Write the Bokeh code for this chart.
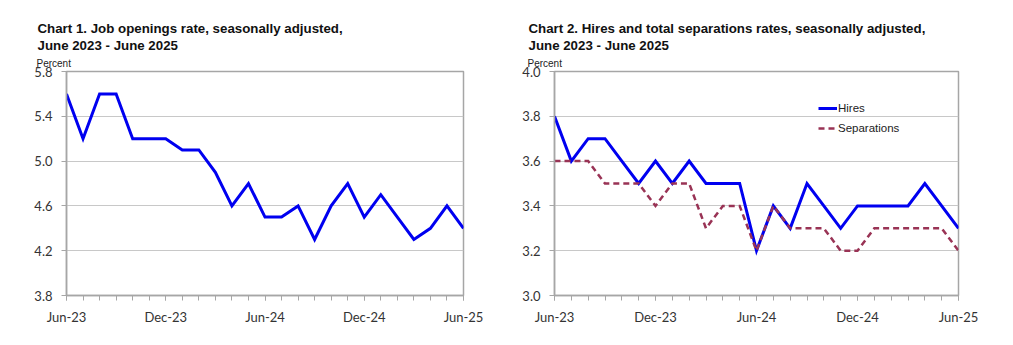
from bokeh.plotting import figure
from bokeh.layouts import row
from bokeh.models import Range1d, FixedTicker, NumeralTickFormatter, Title, Legend, LegendItem
from bokeh.embed import file_html
from bokeh.resources import INLINE

months = ["Jun-23", "Jul-23", "Aug-23", "Sep-23", "Oct-23", "Nov-23", "Dec-23",
          "Jan-24", "Feb-24", "Mar-24", "Apr-24", "May-24", "Jun-24", "Jul-24",
          "Aug-24", "Sep-24", "Oct-24", "Nov-24", "Dec-24", "Jan-25", "Feb-25",
          "Mar-25", "Apr-25", "May-25", "Jun-25"]
openings = [5.6, 5.2, 5.6, 5.6, 5.2, 5.2, 5.2, 5.1, 5.1, 4.9, 4.6, 4.8, 4.5,
            4.5, 4.6, 4.3, 4.6, 4.8, 4.5, 4.7, 4.5, 4.3, 4.4, 4.6, 4.4]
hires = [3.8, 3.6, 3.7, 3.7, 3.6, 3.5, 3.6, 3.5, 3.6, 3.5, 3.5, 3.5, 3.2,
         3.4, 3.3, 3.5, 3.4, 3.3, 3.4, 3.4, 3.4, 3.4, 3.5, 3.4, 3.3]
separations = [3.6, 3.6, 3.6, 3.5, 3.5, 3.5, 3.4, 3.5, 3.5, 3.3, 3.4, 3.4, 3.2,
               3.4, 3.3, 3.3, 3.3, 3.2, 3.2, 3.3, 3.3, 3.3, 3.3, 3.3, 3.2]
labeled_months = ["Jun-23", "Dec-23", "Jun-24", "Dec-24", "Jun-25"]
y1_ticks = [3.8, 4.2, 4.6, 5.0, 5.4, 5.8]
y2_ticks = [3.0, 3.2, 3.4, 3.6, 3.8, 4.0]

TITLE_FONT = "Liberation Sans"
TICK_FONT = "Lato"
AX_GRAY = "#a6a6a6"
BLUE = "#0000f0"
MAROON = "#993355"

xs = list(range(len(months)))
major_idx = [months.index(m) for m in labeled_months]


def make_fig(width, lb, rb, tb, bb, yticks, line1, line2, title_off):
    p = figure(width=width, height=345, output_backend="svg", toolbar_location=None,
               x_range=Range1d(0, len(months) - 1), y_range=Range1d(yticks[0], yticks[-1]),
               min_border_left=lb, min_border_right=rb, min_border_top=tb, min_border_bottom=bb)
    p.title = None
    p.outline_line_color = AX_GRAY
    p.outline_line_width = 1.5
    p.background_fill_color = "white"
    p.border_fill_color = "white"
    p.xgrid.visible = False
    p.ygrid.grid_line_color = "#c8c8c8"
    p.ygrid.grid_line_width = 1
    p.ygrid.ticker = FixedTicker(ticks=yticks)

    xa = p.xaxis[0]
    xa.ticker = FixedTicker(ticks=major_idx, minor_ticks=xs)
    xa.major_label_overrides = {i: months[i] for i in major_idx}
    xa.axis_line_color = AX_GRAY
    xa.axis_line_width = 1.5
    xa.major_tick_line_color = AX_GRAY
    xa.minor_tick_line_color = AX_GRAY
    xa.major_tick_in = 0
    xa.major_tick_out = 5
    xa.minor_tick_in = 0
    xa.minor_tick_out = 5
    xa.major_label_text_font = TICK_FONT
    xa.major_label_text_font_size = "13px"
    xa.major_label_text_color = "#333333"
    xa.major_label_standoff = 8

    ya = p.yaxis[0]
    ya.ticker = FixedTicker(ticks=yticks, minor_ticks=[])
    ya.formatter = NumeralTickFormatter(format="0.0")
    ya.axis_line_color = AX_GRAY
    ya.axis_line_width = 1.5
    ya.major_tick_line_color = AX_GRAY
    ya.major_tick_in = 0
    ya.major_tick_out = 5
    ya.major_label_text_font = TICK_FONT
    ya.major_label_text_font_size = "13px"
    ya.major_label_text_color = "#333333"
    ya.major_label_standoff = 9

    p.add_layout(Title(text="Percent", text_font=TITLE_FONT, text_font_size="10px",
                       text_font_style="normal", text_color="#222222", align="left",
                       offset=title_off - 1, standoff=6), "above")
    p.add_layout(Title(text=line2, text_font=TITLE_FONT, text_font_size="13.3px",
                       text_font_style="bold", text_color="#111111", align="left",
                       offset=title_off, standoff=0), "above")
    p.add_layout(Title(text=line1, text_font=TITLE_FONT, text_font_size="13.3px",
                       text_font_style="bold", text_color="#111111", align="left",
                       offset=title_off, standoff=0), "above")
    return p


p1 = make_fig(495, 66, 32, 71, 49, y1_ticks,
              "Chart 1. Job openings rate, seasonally adjusted,",
              "June 2023 - June 2025", -29)
p1.line(xs, openings, line_color=BLUE, line_width=3, line_join="miter")

p2 = make_fig(518, 59, 55, 70, 50, y2_ticks,
              "Chart 2. Hires and total separations rates, seasonally adjusted,",
              "June 2023 - June 2025", -26)
r_h = p2.line(xs, hires, line_color=BLUE, line_width=3, line_join="miter")
r_s = p2.line(xs, separations, line_color=MAROON, line_width=2.5, line_dash="6 4",
              line_join="miter")
leg = Legend(items=[LegendItem(label="Hires", renderers=[r_h]),
                    LegendItem(label="Separations", renderers=[r_s])],
             location=(264, 157), padding=0, margin=0, spacing=0,
             glyph_width=19, glyph_height=20, label_height=20, label_standoff=1,
             label_text_font=TITLE_FONT, label_text_font_size="11.5px",
             label_text_color="#222222", border_line_color=None,
             background_fill_alpha=0)
p2.add_layout(leg)

layout = row(p1, p2)
open("out.html", "w").write(file_html(layout, INLINE))
